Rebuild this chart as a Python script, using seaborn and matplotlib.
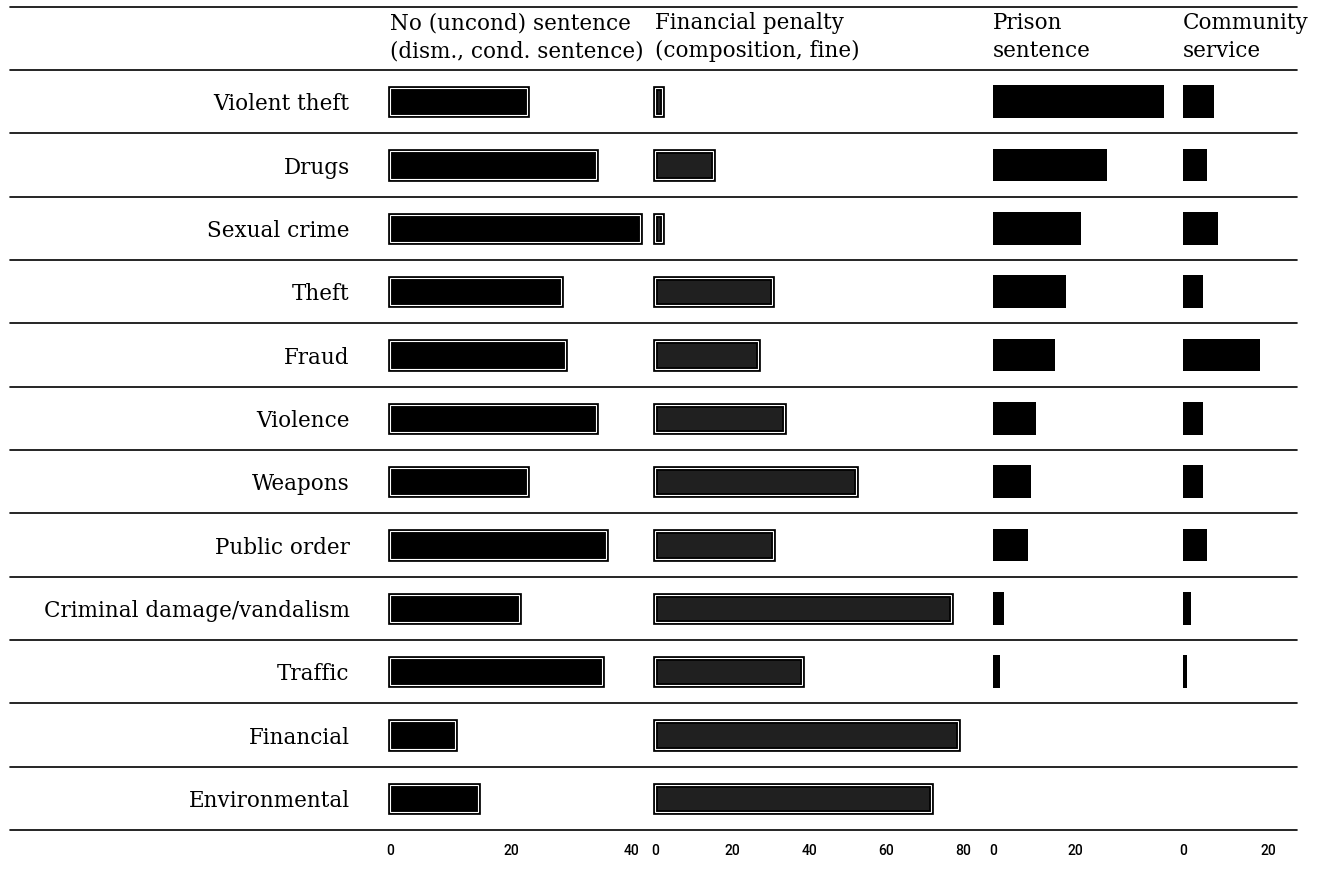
import numpy as np
import pandas as pd
import seaborn as sns
import matplotlib.pyplot as plt
from matplotlib.patches import Rectangle

# Data (percent of cases per crime type)
categories = ['Violent theft', 'Drugs', 'Sexual crime', 'Theft', 'Fraud', 'Violence',
              'Weapons', 'Public order', 'Criminal damage/vandalism', 'Traffic',
              'Financial', 'Environmental']

no_sentence = [22.6, 34.0, 41.3, 28.3, 28.9, 34.0, 22.6, 35.7, 21.3, 35.0, 10.7, 14.5]
financial_penalty = [1.8, 15.1, 1.8, 30.4, 26.8, 33.5, 52.2, 30.6, 76.9, 38.2, 78.7, 71.7]
prison = [41.7, 27.8, 21.5, 17.8, 15.1, 10.5, 9.3, 8.5, 2.7, 1.7, 0, 0]
community = [7.3, 5.6, 8.2, 4.7, 18.1, 4.7, 4.7, 5.6, 1.9, 0.9, 0, 0]

headers = [('No (uncond) sentence', '(dism., cond. sentence)'),
           ('Financial penalty', '(composition, fine)'),
           ('Prison', 'sentence'),
           ('Community', 'service')]
ticks = [[0, 20, 40], [0, 20, 40, 60, 80], [0, 20], [0, 20]]

sns.set_style('white')
plt.rcParams['font.family'] = ['DejaVu Serif']
plt.rcParams['text.color'] = 'black'
plt.rcParams['xtick.color'] = 'black'
plt.rcParams['ytick.color'] = 'black'

W, H = 1335, 874
fig = plt.figure(figsize=(W / 100, H / 100), dpi=100)


def px_axes(x0, x1, y0=70, y1=830):
    return fig.add_axes([x0 / W, 1 - y1 / H, (x1 - x0) / W, (y1 - y0) / H])


serif = 15.5
n = len(categories)

# background axes for the row rules
bg = px_axes(10, 1297)
bg.set_xlim(0, 1)
bg.set_ylim(n - 0.5, -0.5)
for y in np.arange(-1.5, n):
    bg.axhline(y, color='black', lw=1.2, clip_on=False)
bg.axis('off')

# panel layout: left px, right px, xmax
panels = [(390, 650, 43.0), (655, 985, 85.7), (993, 1176, 44.6), (1183, 1297, 26.8)]
series = [no_sentence, financial_penalty, prison, community]
styles = ['framed', 'framed', 'solid', 'solid']
fills = ['black', '#202020', 'black', 'black']

for i, (x0, x1, xmax) in enumerate(panels):
    ax = px_axes(x0, x1)
    ax.patch.set_visible(False)
    df = pd.DataFrame({'category': categories, 'value': series[i]})
    if styles[i] == 'framed':
        sns.barplot(data=df, x='value', y='category', ax=ax, color=fills[i],
                    edgecolor='black', linewidth=3.4, width=0.43,
                    errorbar=None, saturation=1)
        for p in list(ax.patches):
            p.set_clip_on(False)
            ax.add_patch(Rectangle(p.get_xy(), p.get_width(), p.get_height(),
                                   fill=False, edgecolor='white', linewidth=0.8,
                                   clip_on=False))
    else:
        sns.barplot(data=df, x='value', y='category', ax=ax, color=fills[i],
                    linewidth=0, width=0.52, errorbar=None, saturation=1)
    ax.set_xlim(0, xmax)
    ax.set_ylim(n - 0.5, -0.5)
    ax.set_xlabel('')
    ax.set_ylabel('')
    sns.despine(ax=ax, left=True, bottom=True)
    ax.set_xticks(ticks[i])
    ax.set_xticklabels([str(t) for t in ticks[i]],
                       family=['Roboto', 'DejaVu Sans'], fontweight='medium', fontsize=10)
    ax.tick_params(axis='x', length=0, pad=10)
    if i == 0:
        ax.tick_params(axis='y', length=0, pad=29, labelsize=serif)
    else:
        ax.set_yticks([])

    # two-line column header above the rows
    ax.text(0, -1.24, headers[i][0], ha='left', va='center', fontsize=serif, clip_on=False)
    ax.text(0, -0.80, headers[i][1], ha='left', va='center', fontsize=serif, clip_on=False)

fig.savefig('out.png', dpi=100)
